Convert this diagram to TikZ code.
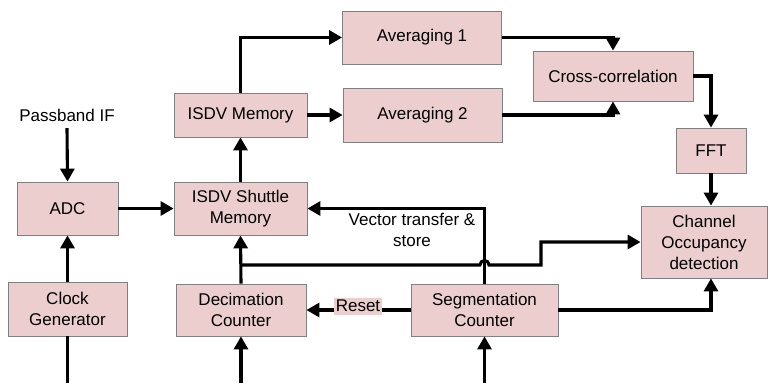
\documentclass[tikz,border=0pt]{standalone}
\usepackage{fontspec}
\setmainfont{Liberation Sans}
\usetikzlibrary{arrows.meta}
\definecolor{boxfill}{RGB}{236,206,206}
\definecolor{boxline}{RGB}{128,128,128}
\begin{document}
\begin{tikzpicture}[x=1pt,y=-1pt,
  every node/.style={font=\fontsize{17}{21}\selectfont, inner sep=0pt, align=center},
  blk/.style={draw=boxline, line width=0.8pt, fill=boxfill},
  conn/.style={line width=3.1pt, line join=miter},
  arr/.style={conn, -{Triangle[length=13pt,width=14pt]}}]
\useasboundingbox (0,0) rectangle (770,383);
\node[blk, minimum width=159pt, minimum height=53pt] (avg1) at (422,37.5) {Averaging 1};
\node[blk, minimum width=159pt, minimum height=54pt] (avg2) at (422.5,115) {Averaging 2};
\node[blk, minimum width=133pt, minimum height=44pt] (isdvm) at (240.5,115) {ISDV Memory};
\node[blk, minimum width=160pt, minimum height=50pt] (xcorr) at (613,76) {Cross-correlation};
\node[blk, minimum width=70pt, minimum height=45pt] (fft) at (711,150.5) {FFT};
\node[blk, minimum width=101pt, minimum height=53pt] (adc) at (67.5,208.5) {ADC};
\node[blk, minimum width=133pt, minimum height=53pt] (shuttle) at (240.5,208.5) {ISDV Shuttle\\Memory};
\node[blk, minimum width=119pt, minimum height=54pt] (clock) at (67.5,309) {Clock\\Generator};
\node[blk, minimum width=130pt, minimum height=52pt] (dec) at (241,310) {Decimation\\Counter};
\node[blk, minimum width=147pt, minimum height=52pt] (seg) at (484.5,310) {Segmentation\\Counter};
\node[blk, minimum width=126pt, minimum height=72pt] (chan) at (704,242) {Channel\\Occupancy\\detection};
\node[fill=boxfill, minimum width=48pt, minimum height=17pt] (reset) at (358,306) {Reset};
\node[minimum height=18pt] (pb) at (67,115) {Passband IF};
\node (vt) at (412,230) {Vector transfer \&\\store};
\coordinate (clkout) at (67.5,383);
\coordinate (decin) at (241,383);
\coordinate (segin) at (484.5,383);
\coordinate (j1) at (241,265);
% connectors
\draw[arr] (pb.south) ++(0,4) -- (adc.north);
\draw[arr] (clock.north) -- (adc.south);
\draw[conn] (clock.south) -- (clkout);
\draw[arr] (adc.east) -- (shuttle.west);
\draw[arr] (shuttle.north) -- (isdvm.south);
\draw[arr] (isdvm.north) |- (avg1.west);
\draw[arr] (isdvm.east) -- (avg2.west);
\draw[arr] (avg1.east) -| (xcorr.north);
\draw[arr] (avg2.east) -| (xcorr.south);
\draw[arr] (xcorr.east) -| (fft.north);
\draw[arr] (fft.south) -- (fft.south |- chan.north);
\draw[arr] (seg.north) |- (shuttle.east);
\draw[arr] (dec.north) -- (shuttle.south);
\draw[arr] (j1) -- (480,265) arc[start angle=180, end angle=360, radius=4.5] -- (541,265) -- (541,242) -- (chan.west);
\draw[arr] (seg.east) -| (fft.center |- chan.south);
\draw[conn] (seg.west) -- (seg.west -| reset.east);
\draw[arr] (reset.west |- dec.east) -- (dec.east);
\draw[arr] (decin) -- (dec.south);
\draw[arr] (segin) -- (seg.south);
\end{tikzpicture}
\end{document}
